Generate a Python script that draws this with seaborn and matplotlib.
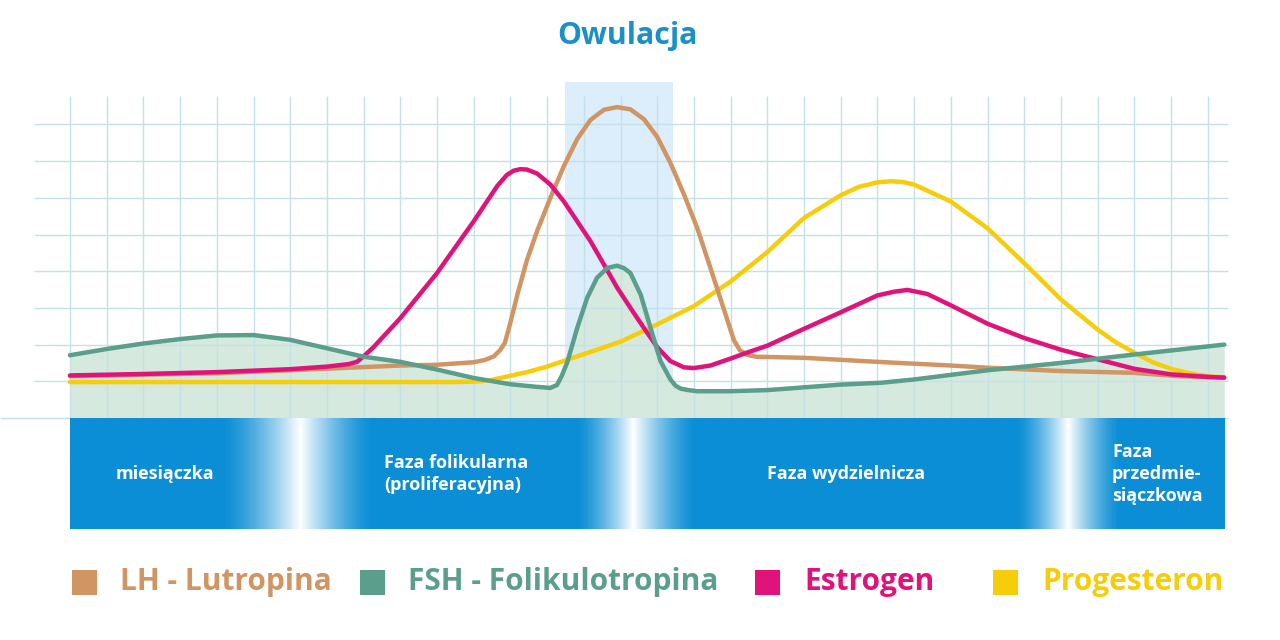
import numpy as np
import pandas as pd
import matplotlib
matplotlib.use("Agg")
import matplotlib.pyplot as plt
from matplotlib.patches import Rectangle
import seaborn as sns

# hormone curves (x = day-grid units, y = grid units)
lh_x = [0, 2, 4, 6, 7.36, 9, 10, 11, 11.3, 11.55, 11.72, 11.85, 12.0, 12.2, 12.45, 12.73, 13.09, 13.45,
        13.82, 14.18, 14.55, 14.91, 15.27, 15.64, 16, 16.36, 16.73, 17.09, 17.45, 17.82, 18.09, 18.25,
        18.45, 18.7, 20, 22, 24, 25, 27, 29, 30.2, 31.45]
lh_y = [1.14, 1.18, 1.22, 1.3, 1.36, 1.43, 1.45, 1.52, 1.58, 1.68, 1.85, 2.05, 2.6, 3.4, 4.3, 5.1, 6.0, 6.85,
        7.6, 8.12, 8.4, 8.47, 8.41, 8.14, 7.66, 6.95, 6.09, 5.18, 4.09, 2.95, 2.12, 1.85,
        1.72, 1.67, 1.64, 1.53, 1.43, 1.37, 1.28, 1.23, 1.14, 1.1]

fsh_x = [0, 1, 2, 3, 4, 5, 6, 7, 8, 9, 10, 11, 12, 12.7, 13.09, 13.27, 13.4, 13.55, 13.82, 14.09, 14.36,
         14.64, 14.91, 15.1, 15.27, 15.55, 15.82, 16.09, 16.36, 16.5, 16.64, 16.85, 17.09, 18, 19, 21,
         22.1, 23, 25, 27, 29, 31.45]
fsh_y = [1.71, 1.88, 2.03, 2.15, 2.25, 2.26, 2.13, 1.9, 1.67, 1.53, 1.32, 1.09, 0.92, 0.85, 0.82, 0.9, 1.15,
         1.52, 2.45, 3.27, 3.82, 4.09, 4.15, 4.08, 3.95, 3.36, 2.45, 1.55, 1.05, 0.88, 0.8, 0.76, 0.73, 0.73,
         0.76, 0.91, 0.96, 1.05, 1.3, 1.5, 1.73, 2.0]

est_x = [0, 2, 4, 6, 7, 7.6, 7.82, 8.0, 8.27, 9, 10, 11, 11.64, 11.9, 12.09, 12.27, 12.45, 12.73, 13.09,
         13.45, 13.82, 14.18, 14.55, 14.91, 15.27, 15.64, 16, 16.36, 16.73, 17, 17.45, 18, 18.5, 19, 20,
         21, 22, 22.45, 22.82, 23.36, 24, 25, 26, 27, 28, 29, 30, 31, 31.45]
est_y = [1.16, 1.2, 1.25, 1.33, 1.4, 1.47, 1.53, 1.68, 1.93, 2.72, 3.95, 5.36, 6.32, 6.62, 6.74, 6.78, 6.77,
         6.66, 6.36, 5.91, 5.36, 4.82, 4.18, 3.55, 3.0, 2.45, 1.93, 1.55, 1.38, 1.36, 1.43, 1.62, 1.8, 1.97,
         2.43, 2.88, 3.34, 3.44, 3.49, 3.38, 3.07, 2.57, 2.18, 1.86, 1.6, 1.34, 1.19, 1.12, 1.1]

prog_x = [0, 5, 9, 10.5, 11, 11.45, 12, 12.45, 13, 13.5, 14, 15, 16, 17, 18, 19, 20, 21, 21.5, 22, 22.36,
          22.7, 23, 24, 25, 26, 27, 28, 28.5, 29, 29.5, 30, 30.5, 31, 31.45]
prog_y = [0.98, 0.98, 0.98, 0.98, 0.99, 1.03, 1.15, 1.25, 1.4, 1.57, 1.74, 2.08, 2.55, 3.05, 3.72, 4.52, 5.45,
          6.07, 6.3, 6.42, 6.45, 6.43, 6.36, 5.9, 5.17, 4.22, 3.23, 2.41, 2.06, 1.78, 1.52, 1.34, 1.22,
          1.14, 1.11]

hormones = ["LH - Lutropina", "FSH - Folikulotropina", "Estrogen", "Progesteron"]
colors = {"LH - Lutropina": "#d09563", "FSH - Folikulotropina": "#5a9e8b",
          "Estrogen": "#e0137b", "Progesteron": "#f6cd0a"}

phases = ["miesiączka", "Faza folikularna\n(proliferacyjna)", "Faza wydzielnicza",
          "Faza\nprzedmie-\nsiączkowa"]

df = pd.concat([
    pd.DataFrame({"x": lh_x, "y": lh_y, "hormone": hormones[0]}),
    pd.DataFrame({"x": fsh_x, "y": fsh_y, "hormone": hormones[1]}),
    pd.DataFrame({"x": est_x, "y": est_y, "hormone": hormones[2]}),
    pd.DataFrame({"x": prog_x, "y": prog_y, "hormone": hormones[3]}),
])

sns.set_theme(style="white")
plt.rcParams["font.family"] = ["Open Sans", "DejaVu Sans"]

fig = plt.figure(figsize=(12.8, 6.4), dpi=100)
ax = fig.add_axes([0, 0, 1, 1])
u = 36.7  # pixels per grid unit

grid_c = "#c4e2e5"
# ovulation highlight
ax.add_patch(Rectangle((13.5, 0), 2.93, 9.15, color="#dcedfb", zorder=0, lw=0))
# area under FSH
ax.fill_between(fsh_x, fsh_y, 0, color="#d6e9df", zorder=1, lw=0)
# grid
ax.vlines(np.arange(0, 32), 0, 8.77, color=grid_c, lw=1, zorder=2)
ax.hlines(np.arange(1, 9), -0.98, 31.55, color=grid_c, lw=1, zorder=2)
ax.hlines(0, -1.9, 31.55, color=grid_c, lw=1, zorder=2)

# curves
for h in ["Progesteron", "LH - Lutropina", "Estrogen", "FSH - Folikulotropina"]:
    sns.lineplot(data=df[df.hormone == h], x="x", y="y", color=colors[h], lw=3.2,
                 ax=ax, legend=False, zorder=5, solid_capstyle="round",
                 solid_joinstyle="round", estimator=None)

# phase band with light transitions
base = np.array([0x0b, 0x8e, 0xd5]) / 255
xs = np.linspace(0, 31.45, 1400)
w = np.zeros_like(xs)
for s, p, e in [(4.14, 6.27, 8.23), (13.8, 15.34, 17.03), (25.78, 27.19, 28.61)]:
    t = np.where(xs < p, (xs - s) / (p - s), (e - xs) / (e - p))
    w = np.maximum(w, np.clip(t, 0, 1) ** 1.4)
row = base[None, :] * (1 - w[:, None]) + w[:, None]
img = np.repeat(row[None, :, :], 2, axis=0)
ax.imshow(img, extent=(0, 31.45, -3.02, -0.02), aspect="auto", interpolation="bilinear", zorder=3)

band_kw = dict(color="white", fontsize=13, fontweight="bold", va="center", zorder=6, linespacing=1.3)
ax.text(2.59, -1.53, phases[0], ha="center", **band_kw)
ax.text(8.56, -1.53, phases[1], ha="left", **band_kw)
ax.text(21.14, -1.53, phases[2], ha="center", **band_kw)
ax.text(28.39, -1.53, phases[3], ha="left", **band_kw)

# legend
sq_px = [72, 360, 755, 993]
tx_px = [120, 408, 804, 1042]
for h, sp, tp in zip(hormones, sq_px, tx_px):
    ax.add_patch(Rectangle(((sp - 70) / u, (418 - 595) / u), 25 / u, 25 / u, color=colors[h], lw=0))
    ax.text((tp - 70) / u, (418 - 582) / u, h, color=colors[h], fontsize=21.5, fontweight="bold",
            va="center", ha="left")

fig.text(627 / 1280, 1 - 36 / 640, "Owulacja", color="#1a8fc8", fontsize=21.8, fontweight="bold",
         ha="center", va="center")

ax.set_xlim(-70 / u, (1280 - 70) / u)
ax.set_ylim((418 - 640) / u, 418 / u)
ax.axis("off")

fig.savefig("out.png", dpi=100)
